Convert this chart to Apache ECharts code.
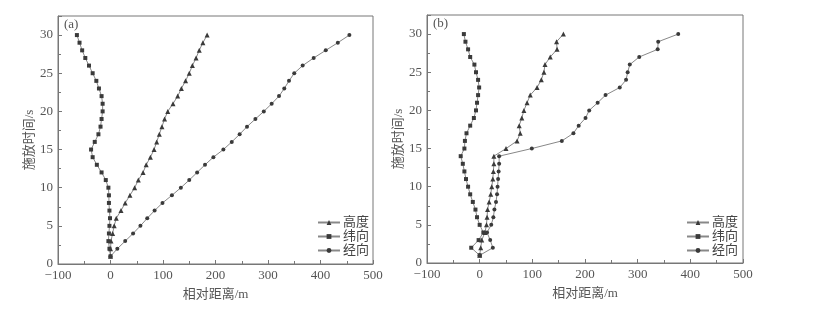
<!DOCTYPE html>
<html>
<head>
<meta charset="utf-8">
<script src="https://cdn.jsdelivr.net/npm/echarts@6/dist/echarts.min.js"></script>
<style>
  html, body { margin: 0; padding: 0; background: #fff; }
  #main { width: 816px; height: 316px; }
</style>
</head>
<body>
<div id="main"></div>
<script>
// time (s)
const times = [1,2,3,4,5,6,7,8,9,10,11,12,13,14,15,16,17,18,19,20,21,22,23,24,25,26,27,28,29,30];

// (a) relative distance (m)
const heightA = [0,0,1,4,7,11,20,28,37,46,53,62,68,76,83,88,93,98,103,109,119,128,135,143,150,156,163,169,176,184];
const latA = [0,-2,-4,-3,-2,-1,-2,-3,-3,-4,-9,-17,-26,-34,-37,-30,-23,-19,-17,-15,-15,-17,-22,-27,-34,-41,-48,-54,-59,-64];
const lonA = [0,13,28,43,57,70,84,99,117,134,150,165,180,196,215,231,246,260,276,292,307,321,331,340,350,366,387,410,433,455];

// (b) relative distance (m)
const heightB = [0,2,4,10,13,14,15,18,21,23,25,26,27,27,50,71,77,75,80,84,90,96,109,117,122,124,134,147,146,159];
const latB = [0,-16,-2,7,0,-5,-8,-13,-18,-22,-26,-29,-32,-36,-29,-28,-25,-18,-11,-7,-5,-3,-1,-3,-7,-10,-18,-22,-27,-30];
const lonB = [0,25,20,14,22,26,28,31,33,34,35,36,37,37,99,156,178,188,201,208,224,239,266,278,281,285,303,338,339,377];

const names = ['高度', '纬向', '经向'];
const symbols = ['triangle', 'rect', 'circle'];

const font = "'Liberation Serif', 'Noto Sans CJK SC', serif";
const txt = '#555';

const chart = echarts.init(document.getElementById('main'), null, { renderer: 'canvas' });

function pairs(vals) {
  return vals.map((v, i) => [v, times[i]]);
}

function xAxis(idx) {
  return {
    gridIndex: idx, type: 'value', min: -100, max: 500, interval: 100,
    name: '相对距离/m', nameLocation: 'middle', nameGap: 24,
    nameTextStyle: { fontFamily: font, fontSize: 13, color: txt },
    axisLine: { show: true, onZero: false, lineStyle: { color: '#777' } },
    axisTick: { show: true, inside: true, length: 4, lineStyle: { color: '#777' } },
    minorTick: { show: true, splitNumber: 2, length: 3, lineStyle: { color: '#777' } },
    axisLabel: { fontFamily: font, fontSize: 13, color: txt, margin: 5,
      formatter: v => v < 0 ? '\u2212' + Math.abs(v) : String(v) },
    splitLine: { show: false }
  };
}

function yAxis(idx) {
  return {
    gridIndex: idx, type: 'value', min: 0, max: 32.5, interval: 5,
    name: '施放时间/s', nameLocation: 'middle', nameGap: 22, nameRotate: 90,
    nameTextStyle: { fontFamily: font, fontSize: 13, color: txt },
    axisLine: { show: true, onZero: false, lineStyle: { color: '#777' } },
    axisTick: { show: true, inside: true, length: 4, lineStyle: { color: '#777' } },
    minorTick: { show: true, splitNumber: 2, length: 3, lineStyle: { color: '#777' } },
    axisLabel: { fontFamily: font, fontSize: 13, color: txt, margin: 5, showMaxLabel: false },
    splitLine: { show: false }
  };
}

function seriesFor(idx, sets) {
  return sets.map((vals, k) => ({
    name: names[k], type: 'line', xAxisIndex: idx, yAxisIndex: idx,
    data: pairs(vals),
    symbol: symbols[k], symbolSize: k === 0 ? 5 : 4,
    lineStyle: { color: '#888', width: 1 },
    itemStyle: { color: '#3a3a3a' },
    emphasis: { disabled: true },
    animation: false
  }));
}

function legend(left) {
  return {
    data: names, orient: 'vertical', left: left, top: 211,
    itemWidth: 22, itemHeight: 6, itemGap: 1,
    textStyle: { fontFamily: font, fontSize: 13, color: '#444', padding: [0, 0, 0, -2] },
    inactiveColor: '#444'
  };
}

chart.setOption({
  backgroundColor: '#fff',
  animation: false,
  grid: [
    { left: 58, top: 16, width: 315, height: 248, show: true, borderColor: '#777', borderWidth: 1 },
    { left: 427, top: 15, width: 316, height: 248, show: true, borderColor: '#777', borderWidth: 1 }
  ],
  xAxis: [xAxis(0), xAxis(1)],
  yAxis: [yAxis(0), yAxis(1)],
  legend: [legend(312), legend(681)],
  graphic: [
    { type: 'text', left: 64, top: 18, style: { text: '(a)', font: '13px ' + font, fill: txt } },
    { type: 'text', left: 433, top: 17, style: { text: '(b)', font: '13px ' + font, fill: txt } }
  ],
  series: seriesFor(0, [heightA, latA, lonA]).concat(seriesFor(1, [heightB, latB, lonB]))
});
</script>
</body>
</html>
